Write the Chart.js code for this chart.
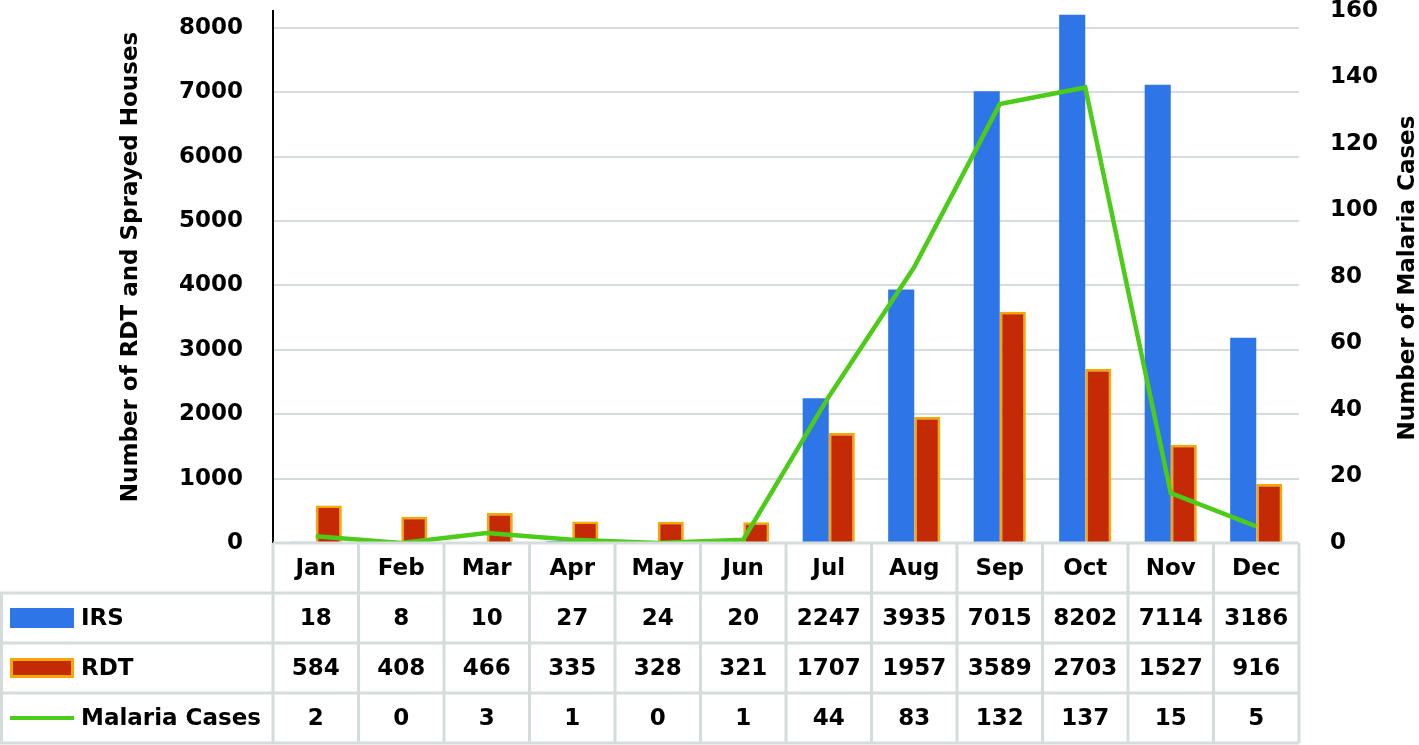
<!DOCTYPE html>
<html><head><meta charset="utf-8">
<script src="https://cdn.jsdelivr.net/npm/chart.js@4.4.1/dist/chart.umd.min.js"></script>
<style>html,body{margin:0;padding:0;background:#fff;}canvas{display:block;}</style>
</head><body>
<canvas id="c" width="1419" height="745"></canvas>
<script>
const months = ['Jan','Feb','Mar','Apr','May','Jun','Jul','Aug','Sep','Oct','Nov','Dec'];
const irs = [18,8,10,27,24,20,2247,3935,7015,8202,7114,3186];
const rdt = [584,408,466,335,328,321,1707,1957,3589,2703,1527,916];
const malaria = [2,0,3,1,0,1,44,83,132,137,15,5];
const seriesNames = ['IRS','RDT','Malaria Cases'];
const leftTicks = [0,1000,2000,3000,4000,5000,6000,7000,8000];
const rightTicks = [0,20,40,60,80,100,120,140,160];
const leftTitle = 'Number of RDT and Sprayed Houses';
const rightTitle = 'Number of Malaria Cases';

const FONT = 'bold 23px "DejaVu Sans"';
const BLUE = '#2e76e8', RED = '#c42a05', ORANGE = '#f5a800', GREEN = '#4ccc18';
const GRID = '#d4dcdc';

const tablePlugin = {
  id: 'tablePlugin',
  afterDraw(chart) {
    const {ctx, chartArea: ca, scales} = chart;
    const x = scales.x;
    const rh = 50;
    const top = ca.bottom;
    const cw = (ca.right - ca.left) / months.length;
    ctx.save();
    ctx.strokeStyle = GRID;
    ctx.lineWidth = 3;
    ctx.beginPath();
    ctx.moveTo(ca.left, top); ctx.lineTo(ca.right, top);
    for (let r = 1; r <= 4; r++) { ctx.moveTo(0, top + r*rh); ctx.lineTo(ca.right, top + r*rh); }
    for (let i = 0; i <= months.length; i++) { const xx = ca.left + i*cw; ctx.moveTo(xx, top); ctx.lineTo(xx, top + 4*rh); }
    ctx.moveTo(1.5, top + rh); ctx.lineTo(1.5, top + 4*rh);
    ctx.stroke();

    ctx.fillStyle = '#000';
    ctx.font = FONT;
    ctx.textAlign = 'center';
    ctx.textBaseline = 'middle';
    const rows = [months, irs, rdt, malaria];
    rows.forEach((row, r) => {
      row.forEach((v, i) => {
        ctx.fillText(String(v), x.getPixelForValue(i), top + r*rh + rh/2 + 1);
      });
    });
    // legend keys
    ctx.textAlign = 'left';
    const keyY = (r) => top + r*rh + rh/2;
    ctx.fillStyle = BLUE; ctx.fillRect(10, keyY(1) - 10, 64, 20);
    ctx.fillStyle = ORANGE; ctx.fillRect(10, keyY(2) - 10, 64, 20);
    ctx.fillStyle = RED; ctx.fillRect(13, keyY(2) - 7, 58, 14);
    ctx.strokeStyle = GREEN; ctx.lineWidth = 4;
    ctx.beginPath(); ctx.moveTo(10, keyY(3)); ctx.lineTo(74, keyY(3)); ctx.stroke();
    ctx.fillStyle = '#000';
    seriesNames.forEach((n, k) => ctx.fillText(n, 81, keyY(k+1) + 1));

    // axis titles
    ctx.textAlign = 'center';
    ctx.save(); ctx.translate(131, 267); ctx.rotate(-Math.PI/2); ctx.fillText(leftTitle, 0, 0); ctx.restore();
    ctx.save(); ctx.translate(1408, 278); ctx.rotate(-Math.PI/2); ctx.fillText(rightTitle, 0, 0); ctx.restore();
    ctx.restore();
  }
};

new Chart(document.getElementById('c'), {
  data: {
    labels: months,
    datasets: [
      { type: 'line', label: seriesNames[2], data: malaria, yAxisID: 'y1', borderColor: GREEN, borderWidth: 4.5, pointRadius: 0, tension: 0, order: 0 },
      { type: 'bar', label: seriesNames[0], data: irs, yAxisID: 'y', backgroundColor: BLUE, borderWidth: 0, order: 1, barPercentage: 1, categoryPercentage: 0.61 },
      { type: 'bar', label: seriesNames[1], data: rdt, yAxisID: 'y', backgroundColor: RED, borderColor: ORANGE, borderWidth: 2.5, order: 1, barPercentage: 1, categoryPercentage: 0.61 }
    ]
  },
  options: {
    responsive: false,
    animation: false,
    devicePixelRatio: 1,
    layout: { padding: { left: 0, right: 0, top: 11, bottom: 202 } },
    plugins: { legend: { display: false }, tooltip: { enabled: false } },
    scales: {
      x: { display: false, offset: true },
      y: {
        position: 'left', min: 0, max: 8260,
        afterBuildTicks: (s) => { s.ticks = leftTicks.map(v => ({ value: v })); },
        ticks: { padding: 30, color: '#000', font: { family: 'DejaVu Sans', weight: 'bold', size: 23 }, callback: (v) => String(v) },
        grid: { color: GRID, lineWidth: 2, drawTicks: false },
        border: { display: true, color: '#000', width: 2 },
        afterFit: (s) => { s.width = 273; s.paddingTop = 0; s.paddingBottom = 0; }
      },
      y1: {
        position: 'right', min: 0, max: 160,
        afterBuildTicks: (s) => { s.ticks = rightTicks.map(v => ({ value: v })); },
        ticks: { padding: 31, color: '#000', font: { family: 'DejaVu Sans', weight: 'bold', size: 23 }, callback: (v) => String(v) },
        grid: { display: false, drawTicks: false },
        border: { display: false },
        afterFit: (s) => { s.width = 120; s.paddingTop = 0; s.paddingBottom = 0; }
      }
    }
  },
  plugins: [tablePlugin]
});
</script>
</body></html>
